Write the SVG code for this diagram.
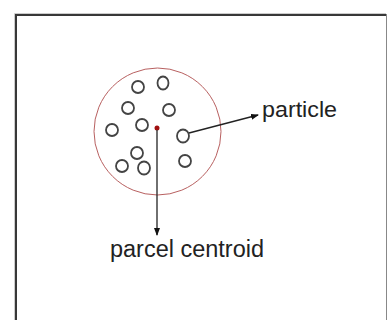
<svg xmlns="http://www.w3.org/2000/svg" width="387" height="320" viewBox="0 0 387 320">
<style>
.p{fill:none;stroke:#444;stroke-width:1.8}
.lbl{font-family:"Liberation Sans",Arial,sans-serif;fill:#222}
.con{stroke:#222;stroke-width:1.3;fill:none}
</style>
<defs>
<marker id="ah" markerWidth="8" markerHeight="6" refX="7" refY="3" orient="auto" markerUnits="userSpaceOnUse">
<path d="M0,0 L8,3 L0,6 Z" fill="#111"/>
</marker>
</defs>
<rect width="387" height="320" fill="#fff"/>
<g id="frame">
<path d="M14.5,320 V13.5 H386" fill="none" stroke="#ccc" stroke-width="1"/>
<path d="M16,320 V15 H386" fill="none" stroke="#383838" stroke-width="2"/>
<line x1="386.5" y1="14" x2="386.5" y2="320" stroke="#888" stroke-width="1"/>
</g>
<g id="parcel">
<circle cx="157.5" cy="131.5" r="63.5" fill="none" stroke="#b86060" stroke-width="1"/>
</g>
<g id="particles">
<ellipse class="p" cx="138" cy="87" rx="6" ry="6"/>
<ellipse class="p" cx="163" cy="83" rx="5.5" ry="6.5"/>
<ellipse class="p" cx="128" cy="108" rx="6" ry="6"/>
<ellipse class="p" cx="169" cy="110" rx="6" ry="6"/>
<ellipse class="p" cx="112" cy="130" rx="6" ry="6"/>
<ellipse class="p" cx="142" cy="125" rx="6" ry="6"/>
<ellipse class="p" cx="183" cy="136" rx="6" ry="6.5"/>
<ellipse class="p" cx="137" cy="153" rx="6" ry="6"/>
<ellipse class="p" cx="122" cy="166" rx="6" ry="6"/>
<ellipse class="p" cx="144" cy="168" rx="6" ry="6.5"/>
<ellipse class="p" cx="185" cy="161" rx="6" ry="6"/>
</g>
<g id="centroid">
<circle cx="157" cy="128" r="2.5" fill="#a01010"/>
</g>
<g id="connectors">
<line class="con" x1="189" y1="133" x2="258" y2="115" marker-end="url(#ah)"/>
<line class="con" x1="157" y1="130" x2="157" y2="235" marker-end="url(#ah)"/>
</g>
<g id="label-particle">
<text class="lbl" x="262" y="117" font-size="22" textLength="75" lengthAdjust="spacingAndGlyphs">particle</text>
</g>
<g id="label-centroid">
<text class="lbl" x="110" y="257" font-size="23.5" textLength="154" lengthAdjust="spacingAndGlyphs">parcel centroid</text>
</g>
</svg>
